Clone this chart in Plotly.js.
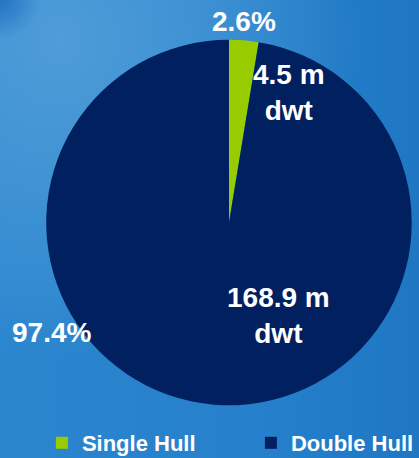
<!DOCTYPE html>
<html>
<head>
<meta charset="utf-8">
<script src="https://cdn.plot.ly/plotly-3.0.1.min.js"></script>
<style>
html,body{margin:0;padding:0;}
body{width:419px;height:458px;overflow:hidden;
background:
 radial-gradient(ellipse 40px 40px at 0px 0px, rgba(25,105,190,0.8), rgba(25,105,190,0) 100%),
 radial-gradient(ellipse 300px 320px at 60px 40px, rgba(78,156,216,1) 0%, rgba(78,156,216,0.6) 45%, rgba(78,156,216,0) 100%),
 linear-gradient(90deg,#2b86ce 0%,#2680cb 60%,#1f77c3 100%);}
#chart{width:419px;height:458px;}
</style>
</head>
<body>
<div id="chart"></div>
<script>
const categories = ["Single Hull", "Double Hull"];
const values = [4.5, 168.9];
const valueLabels = ["4.5 m<br>dwt", "168.9 m<br>dwt"];
const percentLabels = ["2.6%", "97.4%"];
const colors = ["#99cc00", "#00205f"];

const trace = {
  type: "pie",
  labels: categories,
  values: values,
  sort: false,
  direction: "clockwise",
  rotation: 0,
  textinfo: "none",
  marker: {colors: colors, line: {width: 0}},
  domain: {x: [0.110, 0.983], y: [0.115, 0.913]},
  hoverinfo: "label+value+percent"
};

const W = 419, H = 458;
const valuePos = [[289, 92], [278, 315]];
const pctPos = [[244, 21], [51, 332]];
const annotations = [];
const fnt = {family: "Liberation Sans, Arial, sans-serif", size: 28, color: "#ffffff"};
for (let i = 0; i < categories.length; i++) {
  annotations.push({xref: "paper", yref: "paper", x: valuePos[i][0]/W, y: 1 - valuePos[i][1]/H,
    xanchor: "center", yanchor: "middle", showarrow: false, text: "<b>" + valueLabels[i].replace("<br>", "</b><br><b>") + "</b>", font: fnt});
  annotations.push({xref: "paper", yref: "paper", x: pctPos[i][0]/W, y: 1 - pctPos[i][1]/H,
    xanchor: "center", yanchor: "middle", showarrow: false, text: "<b>" + percentLabels[i] + "</b>", font: fnt});
}

const layout = {
  width: W, height: H,
  margin: {l: 0, r: 0, t: 0, b: 0, autoexpand: false},
  paper_bgcolor: "rgba(0,0,0,0)",
  plot_bgcolor: "rgba(0,0,0,0)",
  showlegend: true,
  legend: {orientation: "h", x: 0.10, y: 1 - 443/458, xanchor: "left", yanchor: "middle",
    font: {family: "Liberation Sans, Arial, sans-serif", size: 22, color: "#ffffff", weight: "bold"},
    entrywidth: 164, entrywidthmode: "pixels", bgcolor: "rgba(0,0,0,0)", traceorder: "normal"},
  annotations: annotations
};

Plotly.newPlot("chart", [trace], layout, {displayModeBar: false, staticPlot: true});
</script>
</body>
</html>
